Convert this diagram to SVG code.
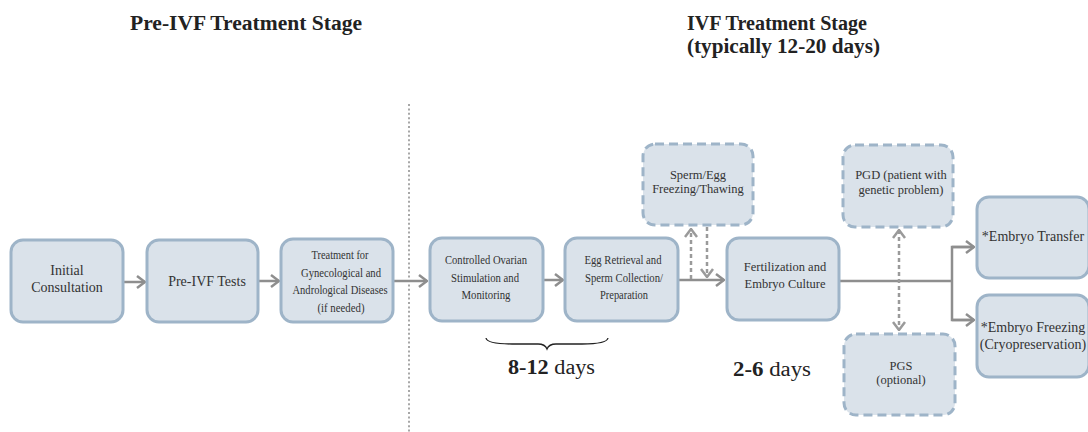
<svg xmlns="http://www.w3.org/2000/svg" width="1088" height="432" viewBox="0 0 1088 432">
  <style>
    .node { fill: #dae2ea; stroke: #9eb4c8; stroke-width: 3; }
    .opt { fill: #dae2ea; stroke: #9eb4c8; stroke-width: 3; stroke-dasharray: 9 5; }
    .lbl { font-family: "Liberation Serif", "Times New Roman", serif; fill: #333; text-anchor: middle; }
    .big { font-size: 14px; }
    .mid { font-size: 12.5px; }
    .sm { font-size: 12px; }
    .title { font-family: "Liberation Serif", "Times New Roman", serif; font-weight: bold; font-size: 20px; fill: #222; }
    .days { font-family: "Liberation Serif", "Times New Roman", serif; font-size: 20px; fill: #222; }
    .flow { fill: none; stroke: #8e8e8e; stroke-width: 2.5; }
    .flowd { fill: none; stroke: #9a9a9a; stroke-width: 2.5; stroke-dasharray: 4 3; }
  </style>
  <defs>
    <marker id="head" viewBox="0 0 10 14" refX="9" refY="7" markerWidth="10" markerHeight="14" markerUnits="userSpaceOnUse" orient="auto">
      <path d="M1,1 L9,7 L1,13" fill="none" stroke="#8e8e8e" stroke-width="2.5"/>
    </marker>
    <marker id="headd" viewBox="0 0 10 14" refX="9" refY="7" markerWidth="10" markerHeight="14" markerUnits="userSpaceOnUse" orient="auto-start-reverse">
      <path d="M1,1 L9,7 L1,13" fill="none" stroke="#9a9a9a" stroke-width="2.5"/>
    </marker>
  </defs>

  <!-- stage headings -->
  <text class="title" x="130" y="30" textLength="232" lengthAdjust="spacingAndGlyphs">Pre-IVF Treatment Stage</text>
  <text class="title" x="687" y="30" textLength="180" lengthAdjust="spacingAndGlyphs">IVF Treatment Stage</text>
  <text class="title" x="687" y="53" textLength="193" lengthAdjust="spacingAndGlyphs">(typically 12-20 days)</text>

  <!-- stage divider -->
  <line x1="409" y1="104" x2="409" y2="432" stroke="#8a8a8a" stroke-width="1.5" stroke-dasharray="2 2.4"/>

  <!-- connectors -->
  <g id="connectors">
    <line class="flow" x1="124" y1="282" x2="145" y2="282" marker-end="url(#head)"/>
    <line class="flow" x1="259" y1="281" x2="279" y2="281" marker-end="url(#head)"/>
    <line class="flow" x1="394" y1="281" x2="427" y2="281" marker-end="url(#head)"/>
    <line class="flow" x1="544" y1="280" x2="563" y2="280" marker-end="url(#head)"/>
    <line class="flow" x1="679" y1="280" x2="724" y2="280" marker-end="url(#head)"/>
    <line class="flowd" x1="691" y1="279" x2="691" y2="229" marker-end="url(#headd)"/>
    <line class="flowd" x1="707" y1="227" x2="707" y2="277" marker-end="url(#headd)"/>
    <polyline class="flow" points="840,281 952,281"/>
    <polyline class="flow" points="974,247 952,247 952,320 974,320"/>
    <line class="flow" x1="952" y1="247" x2="974" y2="247" marker-end="url(#head)"/>
    <line class="flow" x1="952" y1="320" x2="974" y2="320" marker-end="url(#head)"/>
    <line class="flowd" x1="899" y1="230" x2="899" y2="330" marker-start="url(#headd)" marker-end="url(#headd)"/>
  </g>

  <g id="initial-consultation">
    <rect class="node" x="11" y="240" width="112" height="82" rx="12"/>
    <text class="lbl big" x="67" y="275">Initial</text>
    <text class="lbl big" x="67" y="292">Consultation</text>
  </g>

  <g id="pre-ivf-tests">
    <rect class="node" x="147" y="240" width="111" height="82" rx="12"/>
    <text class="lbl big" x="207" y="286">Pre-IVF Tests</text>
  </g>

  <g id="treatment">
    <rect class="node" x="281" y="239" width="112" height="83" rx="12"/>
    <text class="lbl sm" x="340" y="259" textLength="57" lengthAdjust="spacingAndGlyphs">Treatment for</text>
    <text class="lbl sm" x="341" y="277" textLength="80" lengthAdjust="spacingAndGlyphs">Gynecological and</text>
    <text class="lbl sm" x="340" y="294" textLength="95" lengthAdjust="spacingAndGlyphs">Andrological Diseases</text>
    <text class="lbl sm" x="341" y="312" textLength="47" lengthAdjust="spacingAndGlyphs">(if needed)</text>
  </g>

  <g id="ovarian-stimulation">
    <rect class="node" x="430" y="238" width="113" height="83" rx="12"/>
    <text class="lbl sm" x="486" y="264" textLength="82" lengthAdjust="spacingAndGlyphs">Controlled Ovarian</text>
    <text class="lbl sm" x="485" y="282" textLength="68" lengthAdjust="spacingAndGlyphs">Stimulation and</text>
    <text class="lbl sm" x="486" y="299" textLength="49" lengthAdjust="spacingAndGlyphs">Monitoring</text>
  </g>

  <g id="egg-retrieval">
    <rect class="node" x="565" y="238" width="113" height="83" rx="12"/>
    <text class="lbl sm" x="623" y="264" textLength="77" lengthAdjust="spacingAndGlyphs">Egg Retrieval and</text>
    <text class="lbl sm" x="624" y="282" textLength="78" lengthAdjust="spacingAndGlyphs">Sperm Collection/</text>
    <text class="lbl sm" x="624" y="299" textLength="48" lengthAdjust="spacingAndGlyphs">Preparation</text>
  </g>

  <g id="sperm-egg-freezing">
    <rect class="opt" x="643" y="144" width="110" height="81" rx="12"/>
    <text class="lbl mid" x="698" y="179">Sperm/Egg</text>
    <text class="lbl mid" x="698" y="193">Freezing/Thawing</text>
  </g>

  <g id="fertilization">
    <rect class="node" x="727" y="238" width="112" height="82" rx="12"/>
    <text class="lbl mid" x="785" y="271">Fertilization and</text>
    <text class="lbl mid" x="785" y="288">Embryo Culture</text>
  </g>

  <g id="pgd">
    <rect class="opt" x="843" y="145" width="110" height="82" rx="12"/>
    <text class="lbl mid" x="901" y="179">PGD (patient with</text>
    <text class="lbl mid" x="901" y="194">genetic problem)</text>
  </g>

  <g id="pgs">
    <rect class="opt" x="844" y="334" width="111" height="81" rx="12"/>
    <text class="lbl mid" x="901" y="370">PGS</text>
    <text class="lbl mid" x="901" y="384">(optional)</text>
  </g>

  <g id="embryo-transfer">
    <rect class="node" x="977" y="197" width="112" height="81" rx="12"/>
    <text class="lbl big" x="1033" y="241">*Embryo Transfer</text>
  </g>

  <g id="embryo-freezing">
    <rect class="node" x="977" y="295" width="112" height="82" rx="12"/>
    <text class="lbl big" x="1033" y="332">*Embryo Freezing</text>
    <text class="lbl big" x="1033" y="349">(Cryopreservation)</text>
  </g>

  <!-- duration labels -->
  <path d="M486,338 Q487,344 512,344 L538,344 Q545,344 547,349 Q549,344 556,344 L582,344 Q607,344 608,338" fill="none" stroke="#222" stroke-width="1.3"/>
  <text class="days" x="508" y="374" textLength="87" lengthAdjust="spacingAndGlyphs"><tspan font-weight="bold">8-12</tspan> days</text>
  <text class="days" x="733" y="376" textLength="78" lengthAdjust="spacingAndGlyphs"><tspan font-weight="bold">2-6</tspan> days</text>
</svg>
